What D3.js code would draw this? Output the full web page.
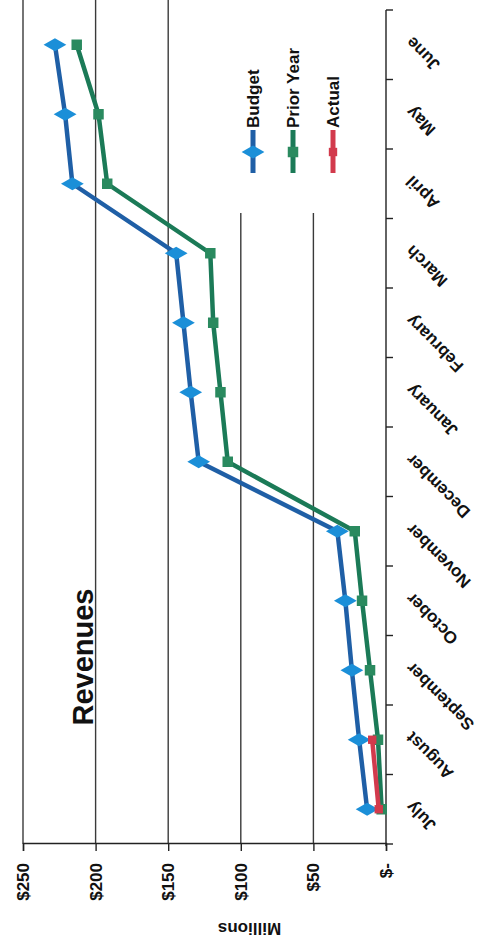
<!DOCTYPE html>
<html>
<head>
<meta charset="utf-8">
<script src="https://cdn.jsdelivr.net/npm/d3@7"></script>
<style>
  html, body { margin: 0; padding: 0; background: #fff; }
  svg { display: block; }
  text { font-family: "Liberation Sans", Arial, sans-serif; font-weight: bold; fill: #111; }
</style>
</head>
<body>
<script>
// Monthly revenue, fiscal year July–June (millions of dollars)
const months = ["July", "August", "September", "October", "November", "December",
                "January", "February", "March", "April", "May", "June"];
const budget    = [13, 18.5, 23.5, 28, 33.5, 129, 134.5, 139.5, 144.5, 216, 221, 228];
const priorYear = [3, 5.5, 11, 16.5, 21.5, 109, 114, 119, 121, 192, 198, 213];
const actual    = [5, 9.5];
const valueTicks = [0, 50, 100, 150, 200, 250];
const seriesNames = ["Budget", "Prior Year", "Actual"];

const fullW = 484, fullH = 941;
// The chart is laid out landscape and then turned a quarter turn on the page.
const W = fullH, H = fullW;

const svg = d3.select("body").append("svg")
  .attr("width", fullW).attr("height", fullH);
svg.append("rect").attr("width", fullW).attr("height", fullH).attr("fill", "#fff");

const g = svg.append("g").attr("transform", `translate(0,${fullH}) rotate(-90)`);

const plot = { left: 97, right: 931, top: 23, bottom: 386 };

const x = d3.scaleBand().domain(months).range([plot.left, plot.right]);
const y = d3.scaleLinear().domain([0, 250]).range([plot.bottom, plot.top]);
const cx = m => x(m) + x.bandwidth() / 2;

// Gridlines
g.append("g").selectAll("line").data(valueTicks.filter(v => v > 0)).join("line")
  .attr("x1", plot.left).attr("x2", W)
  .attr("y1", d => y(d)).attr("y2", d => y(d))
  .attr("stroke", "#3a3a3a").attr("stroke-width", 1.4);

// Value axis
const yAxis = d3.axisLeft(y).tickValues(valueTicks).tickSize(7)
  .tickFormat(d => d === 0 ? "$-" : "$" + d);
const ya = g.append("g").attr("transform", `translate(${plot.left},0)`).call(yAxis);
ya.select(".domain").attr("stroke", "#222").attr("stroke-width", 1.4);
ya.selectAll(".tick line").attr("stroke", "#222").attr("stroke-width", 1.4);
ya.selectAll(".tick text").attr("x", -19).style("font-size", "17px")
  .style("font-family", "'Liberation Sans', Arial, sans-serif").style("font-weight", "bold").attr("fill", "#111");

// Category axis (ticks on band boundaries)
const xa = g.append("g").attr("transform", `translate(0,${plot.bottom})`);
xa.append("line").attr("x1", plot.left - 2).attr("x2", plot.right)
  .attr("stroke", "#222").attr("stroke-width", 1.4);
const bounds = months.map(m => x(m)).concat([plot.right]);
xa.selectAll("line.tk").data(bounds).join("line").attr("class", "tk")
  .attr("x1", d => d).attr("x2", d => d).attr("y1", 0).attr("y2", 7)
  .attr("stroke", "#222").attr("stroke-width", 1.4);
xa.selectAll("text").data(months).join("text")
  .attr("transform", d => `translate(${cx(d) + 9},${27}) rotate(-45)`)
  .attr("text-anchor", "end")
  .style("font-size", "17px")
  .text(d => d);

// Axis title
g.append("text")
  .attr("transform", `translate(12,${(plot.top + plot.bottom) / 2 + 45}) rotate(-90)`)
  .attr("text-anchor", "middle").attr("dy", "0.35em")
  .style("font-size", "17px").text("Millions");

// Chart title
g.append("text").attr("x", 284).attr("y", 93).attr("text-anchor", "middle")
  .style("font-size", "29px").text("Revenues");

// Series
const series = [
  { name: seriesNames[0], values: budget,    line: "#1f5fa6", fill: "#1b8fd8", shape: d3.symbolDiamond, size: 150 },
  { name: seriesNames[1], values: priorYear, line: "#1b7a57", fill: "#2a8a5f", shape: d3.symbolSquare,  size: 110 },
  { name: seriesNames[2], values: actual,    line: "#d23a4c", fill: "#d23a4c", shape: d3.symbolSquare,  size: 70 }
];

const line = d3.line().x((d, i) => cx(months[i])).y(d => y(d));

series.forEach(s => {
  g.append("path").datum(s.values)
    .attr("d", line).attr("fill", "none")
    .attr("stroke", s.line).attr("stroke-width", 4.5).attr("stroke-linejoin", "round");
  g.append("g").selectAll("path").data(s.values).join("path")
    .attr("transform", (d, i) => `translate(${cx(months[i])},${y(d)})`)
    .attr("d", d3.symbol(s.shape, s.size))
    .attr("fill", s.fill);
});

// Legend
const lg = g.append("g");
lg.append("rect").attr("x", 728).attr("y", 232).attr("width", W - 728).attr("height", 118).attr("fill", "#fff");
const legendY = [253, 293, 333];
series.forEach((s, i) => {
  const ly = legendY[i];
  lg.append("line").attr("x1", 768).attr("x2", 811).attr("y1", ly).attr("y2", ly)
    .attr("stroke", s.line).attr("stroke-width", 5);
  lg.append("path").attr("transform", `translate(789,${ly})`)
    .attr("d", d3.symbol(s.shape, s.size)).attr("fill", s.fill);
  lg.append("text").attr("x", 813).attr("y", ly).attr("dy", "0.35em")
    .style("font-size", "17px").text(s.name);
});
</script>
</body>
</html>
